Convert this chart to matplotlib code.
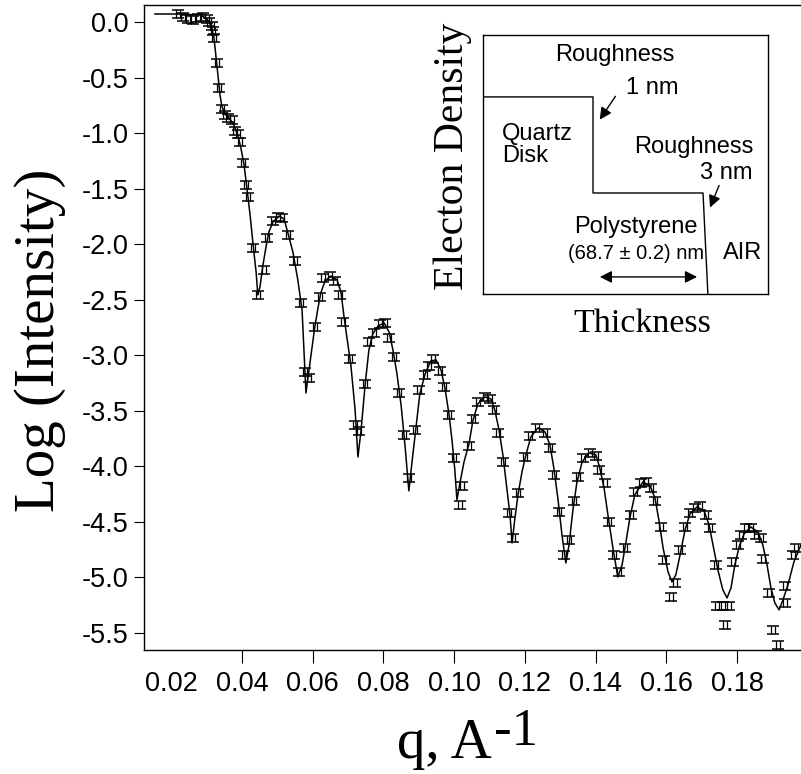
import matplotlib
matplotlib.use("Agg")
import matplotlib.pyplot as plt
from matplotlib.path import Path

plt.rcParams['axes.unicode_minus'] = False

# ---------------- data ----------------
data_q = [0.0219, 0.0233, 0.0247, 0.0261, 0.0276, 0.0290, 0.0301, 0.0307, 0.0315, 0.0318,
          0.0321, 0.0329, 0.0335, 0.0343, 0.0352, 0.0360, 0.0372, 0.0380, 0.0389, 0.0394,
          0.0403, 0.0411, 0.0417, 0.0431, 0.0445, 0.0462, 0.0471, 0.0488, 0.0502, 0.0513,
          0.0530, 0.0550, 0.0567, 0.0578, 0.0589, 0.0606, 0.0621, 0.0629, 0.0649, 0.0663,
          0.0677, 0.0686, 0.0705, 0.0720, 0.0731, 0.0748, 0.0759, 0.0773, 0.0790, 0.0804,
          0.0816, 0.0830, 0.0844, 0.0858, 0.0872, 0.0889, 0.0901, 0.0918, 0.0929, 0.0940,
          0.0960, 0.0971, 0.0985, 0.1000, 0.1017, 0.1022, 0.1042, 0.1053, 0.1067, 0.1087,
          0.1101, 0.1113, 0.1124, 0.1138, 0.1155, 0.1166, 0.1181, 0.1200, 0.1214, 0.1234,
          0.1257, 0.1271, 0.1282, 0.1296, 0.1311, 0.1325, 0.1339, 0.1350, 0.1364, 0.1384,
          0.1401, 0.1410, 0.1427, 0.1438, 0.1452, 0.1466, 0.1483, 0.1500, 0.1511, 0.1528,
          0.1543, 0.1557, 0.1568, 0.1585, 0.1593, 0.1613, 0.1625, 0.1639, 0.1653, 0.1667,
          0.1681, 0.1695, 0.1712, 0.1723, 0.1740, 0.1743, 0.1760, 0.1766, 0.1777, 0.1788,
          0.1802, 0.1811, 0.1825, 0.1839, 0.1853, 0.1867, 0.1873, 0.1890, 0.1901, 0.1915,
          0.1935, 0.1937, 0.1957, 0.1966]
data_logI = [0.07, 0.045, 0.027, 0.018, 0.036, 0.045, 0.027, 0.0, -0.036, -0.081,
             -0.144, -0.369, -0.594, -0.783, -0.837, -0.864, -0.882, -0.981, -1.008, -1.080,
             -1.269, -1.467, -1.575, -2.034, -2.457, -2.232, -1.944, -1.791, -1.755, -1.764,
             -1.917, -2.151, -2.529, -3.150, -3.204, -2.745, -2.475, -2.304, -2.286, -2.331,
             -2.457, -2.700, -3.033, -3.627, -3.681, -3.258, -2.880, -2.799, -2.718, -2.709,
             -2.844, -3.015, -3.339, -3.717, -4.104, -3.672, -3.312, -3.177, -3.096, -3.033,
             -3.141, -3.285, -3.537, -3.924, -4.347, -4.176, -3.816, -3.573, -3.420, -3.375,
             -3.393, -3.492, -3.699, -3.960, -4.419, -4.645, -4.239, -3.915, -3.726, -3.654,
             -3.699, -3.834, -4.077, -4.410, -4.797, -4.662, -4.311, -4.095, -3.924, -3.879,
             -3.906, -4.032, -4.149, -4.500, -4.797, -4.950, -4.734, -4.437, -4.230, -4.149,
             -4.140, -4.194, -4.311, -4.545, -4.842, -5.175, -5.049, -4.752, -4.545, -4.419,
             -4.374, -4.356, -4.437, -4.554, -4.887, -5.257, -5.257, -5.428, -5.257, -4.860,
             -4.707, -4.617, -4.554, -4.554, -4.617, -4.644, -4.833, -5.139, -5.472, -5.607,
             -5.229, -5.076, -4.797, -4.734]
data_err = 0.036

fit_q = [0.0154, 0.0225, 0.0281, 0.0298, 0.0307, 0.0315, 0.0321, 0.0326, 0.0332, 0.0338,
         0.0343, 0.0352, 0.0366, 0.0377, 0.0389, 0.0397, 0.0406, 0.0414, 0.0423, 0.0431,
         0.0440, 0.0445, 0.0451, 0.0459, 0.0468, 0.0476, 0.0488, 0.0505, 0.0519, 0.0530,
         0.0544, 0.0558, 0.0570, 0.0581, 0.0589, 0.0598, 0.0606, 0.0615, 0.0623, 0.0635,
         0.0652, 0.0669, 0.0680, 0.0688, 0.0697, 0.0708, 0.0720, 0.0728, 0.0737, 0.0748,
         0.0759, 0.0770, 0.0785, 0.0802, 0.0816, 0.0827, 0.0838, 0.0850, 0.0861, 0.0872,
         0.0881, 0.0892, 0.0903, 0.0918, 0.0934, 0.0949, 0.0963, 0.0974, 0.0985, 0.0994,
         0.1002, 0.1008, 0.1017, 0.1028, 0.1042, 0.1053, 0.1067, 0.1087, 0.1104, 0.1115,
         0.1127, 0.1138, 0.1149, 0.1158, 0.1164, 0.1172, 0.1181, 0.1192, 0.1203, 0.1217,
         0.1237, 0.1257, 0.1271, 0.1282, 0.1294, 0.1305, 0.1316, 0.1325, 0.1336, 0.1347,
         0.1362, 0.1381, 0.1401, 0.1412, 0.1424, 0.1435, 0.1449, 0.1463, 0.1475, 0.1486,
         0.1497, 0.1511, 0.1534, 0.1554, 0.1568, 0.1579, 0.1591, 0.1605, 0.1616, 0.1627,
         0.1639, 0.1653, 0.1667, 0.1687, 0.1707, 0.1721, 0.1732, 0.1746, 0.1760, 0.1772,
         0.1783, 0.1794, 0.1806, 0.1820, 0.1839, 0.1859, 0.1873, 0.1885, 0.1896, 0.1907,
         0.1919, 0.1930, 0.1944, 0.1961, 0.1981]
fit_logI = [0.072, 0.072, 0.063, 0.036, 0.0, -0.054, -0.144, -0.297, -0.477, -0.657,
            -0.756, -0.828, -0.873, -0.927, -1.026, -1.134, -1.287, -1.494, -1.737, -1.989,
            -2.250, -2.457, -2.385, -2.196, -2.025, -1.890, -1.800, -1.746, -1.773, -1.899,
            -2.070, -2.322, -2.592, -3.339, -3.150, -2.934, -2.745, -2.574, -2.439, -2.331,
            -2.286, -2.322, -2.430, -2.637, -2.844, -3.087, -3.492, -3.915, -3.672, -3.276,
            -2.952, -2.808, -2.736, -2.709, -2.790, -2.952, -3.159, -3.447, -3.807, -4.221,
            -3.960, -3.654, -3.348, -3.168, -3.051, -3.042, -3.132, -3.294, -3.519, -3.762,
            -4.032, -4.302, -4.140, -3.960, -3.798, -3.591, -3.438, -3.375, -3.393, -3.492,
            -3.672, -3.897, -4.194, -4.437, -4.689, -4.464, -4.248, -4.050, -3.897, -3.735,
            -3.654, -3.690, -3.807, -4.014, -4.302, -4.617, -4.869, -4.707, -4.392, -4.149,
            -3.960, -3.879, -3.897, -4.014, -4.194, -4.437, -4.734, -4.995, -4.887, -4.680,
            -4.464, -4.257, -4.140, -4.176, -4.284, -4.482, -4.734, -4.950, -5.040, -4.977,
            -4.797, -4.572, -4.428, -4.365, -4.401, -4.527, -4.707, -4.932, -5.112, -5.184,
            -5.094, -4.887, -4.725, -4.608, -4.545, -4.590, -4.707, -4.887, -5.094, -5.229,
            -5.292, -5.202, -5.067, -4.860, -4.707]

x_ticks = [0.02, 0.04, 0.06, 0.08, 0.10, 0.12, 0.14, 0.16, 0.18]
x_ticklabels = ["0.02", "0.04", "0.06", "0.08", "0.10", "0.12", "0.14", "0.16", "0.18"]
y_ticks = [0.0, -0.5, -1.0, -1.5, -2.0, -2.5, -3.0, -3.5, -4.0, -4.5, -5.0, -5.5]
y_ticklabels = ["0.0", "-0.5", "-1.0", "-1.5", "-2.0", "-2.5", "-3.0", "-3.5", "-4.0",
                "-4.5", "-5.0", "-5.5"]

# electron density profile sketch (inset)
profile_thickness = [0.0, 0.386, 0.386, 0.772, 0.789]
profile_density = [0.761, 0.761, 0.390, 0.390, 0.0]

# ---------------- figure ----------------
W, H = 801, 774
fig = plt.figure(figsize=(W / 100, H / 100), dpi=100)
ax = fig.add_axes([144 / W, 1 - 650 / H, 1 - 144 / W, (650 - 5) / H])

ax.plot(fit_q, fit_logI, color='black', lw=1.1, zorder=3)

bar_marker = Path([(-0.5, -1), (-0.5, 1), (0.5, -1), (0.5, 1)],
                  [Path.MOVETO, Path.LINETO, Path.MOVETO, Path.LINETO])
eb = ax.errorbar(data_q, data_logI, yerr=data_err, fmt='none', ecolor='black',
                 capsize=4.3, capthick=1.1, elinewidth=0.8, zorder=4)
eb[2][0].set_visible(False)
ax.plot(data_q, data_logI, linestyle='none', marker=bar_marker, ms=5.5,
        mec='black', mew=0.9, zorder=4)

ax.set_xlim(0.0123, 0.1981)
ax.set_ylim(-5.653, 0.153)
ax.set_xticks(x_ticks)
ax.set_xticklabels(x_ticklabels)
ax.set_yticks(y_ticks)
ax.set_yticklabels(y_ticklabels)
ax.xaxis.get_major_ticks()[0].tick1line.set_visible(False)

for lab in ax.get_xticklabels() + ax.get_yticklabels():
    lab.set_fontfamily('Liberation Sans')
    lab.set_fontsize(19.5)
ax.tick_params(axis='x', direction='out', length=9, width=0.8, pad=6)
ax.tick_params(axis='y', direction='out', length=7, width=0.8, pad=4)
ax.spines['right'].set_visible(False)
for s in ['left', 'bottom', 'top']:
    ax.spines[s].set_linewidth(1.0)

serif = 'Liberation Serif'
fig.text(40 / W, 1 - 340 / H, 'Log (Intensity)', rotation=90, ha='center', va='center',
         family=serif, fontsize=41)
fig.text(492 / W, 1 - 758 / H, 'q, A', ha='right', va='baseline', family=serif, fontsize=41)
fig.text(494 / W, 1 - 745 / H, '-1', ha='left', va='baseline', family=serif, fontsize=38)

# ---------------- inset ----------------
ins = fig.add_axes([483 / W, 1 - 294 / H, 285 / W, 259 / H])
ins.set_xlim(0, 1)
ins.set_ylim(0, 1)
ins.set_xticks([])
ins.set_yticks([])
for s in ins.spines.values():
    s.set_linewidth(1.0)
ins.plot(profile_thickness, profile_density, color='black', lw=1.0)

sans = 'Liberation Sans'
fs = 17
ins.text(0.463, 0.923, 'Roughness', ha='center', va='center', family=sans, fontsize=fs)
ins.text(0.593, 0.795, '1 nm', ha='center', va='center', family=sans, fontsize=fs)
ins.text(0.067, 0.575, 'Quartz\nDisk', ha='left', va='center', family=sans, fontsize=fs,
         linespacing=1.0)
ins.text(0.740, 0.568, 'Roughness', ha='center', va='center', family=sans, fontsize=fs)
ins.text(0.944, 0.467, '3 nm', ha='right', va='center', family=sans, fontsize=fs)
ins.text(0.537, 0.259, 'Polystyrene', ha='center', va='center', family=sans, fontsize=fs)
ins.text(0.537, 0.158, '(68.7 ± 0.2) nm', ha='center', va='center', family=sans,
         fontsize=14.5)
ins.text(0.912, 0.158, 'AIR', ha='center', va='center', family=sans, fontsize=fs)

arrow = dict(arrowstyle='-|>', color='black', lw=1.0, mutation_scale=18)
ins.annotate('', xy=(0.404, 0.664), xytext=(0.470, 0.772), arrowprops=arrow)
ins.annotate('', xy=(0.793, 0.324), xytext=(0.832, 0.429), arrowprops=arrow)
ins.annotate('', xy=(0.761, 0.066), xytext=(0.400, 0.066),
             arrowprops=dict(arrowstyle='<|-|>', color='black', lw=1.0, mutation_scale=18))

fig.text(453 / W, 1 - 156 / H, 'Electon Density', rotation=90, ha='center', va='center',
         family=serif, fontsize=30)
fig.text(642 / W, 1 - 332 / H, 'Thickness', ha='center', va='baseline', family=serif,
         fontsize=24.5)

fig.savefig('out.png', dpi=100)
